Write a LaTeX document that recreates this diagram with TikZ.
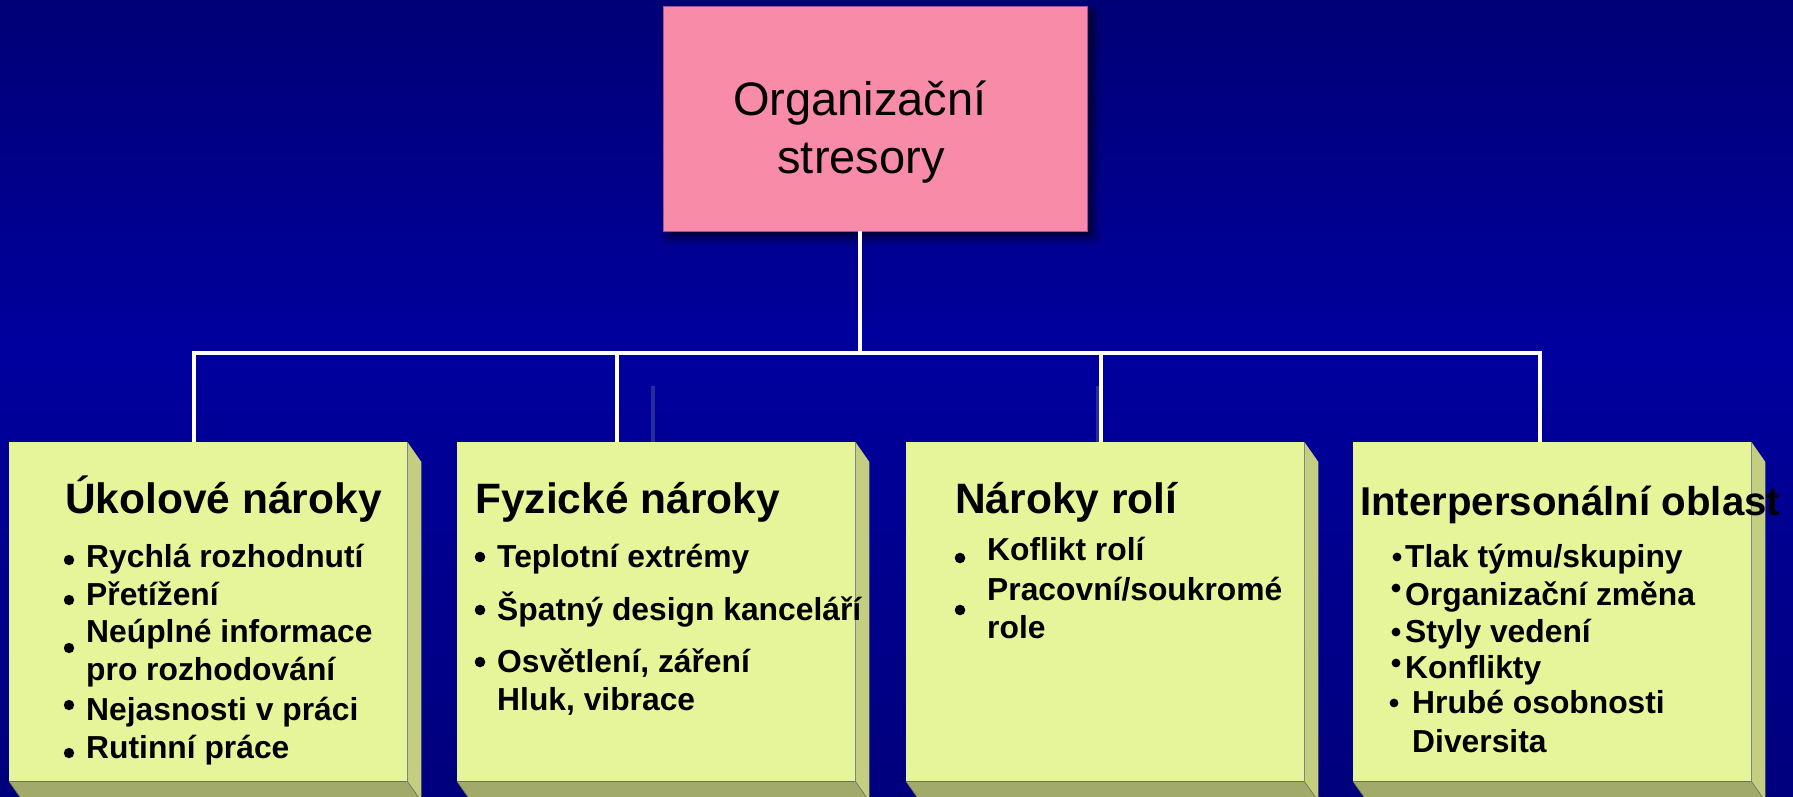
\documentclass[tikz,border=0pt]{standalone}
\usepackage{fontspec}
\setmainfont{Liberation Sans}
\usetikzlibrary{shadows.blur}
\definecolor{bgtop}{RGB}{0,0,118}
\definecolor{bgmid}{RGB}{0,0,158}
\definecolor{bgbot}{RGB}{0,0,125}
\definecolor{yfront}{RGB}{230,245,154}
\definecolor{yside}{RGB}{196,206,128}
\definecolor{ybot}{RGB}{161,170,106}
\definecolor{pinkfill}{RGB}{248,140,168}
\definecolor{pinkline}{RGB}{170,80,150}
\definecolor{faintline}{RGB}{35,45,155}
\tikzset{
  conn/.style={white,line width=4.5pt,line join=miter},
  faint/.style={faintline,line width=4pt},
  ybox/.style={rectangle,fill=yfront,draw=none,minimum width=398pt,minimum height=339pt,anchor=north west,inner sep=0pt},
  hdr/.style={anchor=base west,inner sep=0pt,font=\fontsize{42.5}{50}\selectfont\bfseries},
  hdrsmall/.style={hdr,font=\fontsize{40.2}{48}\selectfont\bfseries},
  itm/.style={anchor=base west,inner sep=0pt,font=\fontsize{31.8}{38}\selectfont\bfseries},
  rtxt/.style={anchor=base,inner sep=0pt,font=\fontsize{47}{58}\selectfont},
}
\begin{document}
\begin{tikzpicture}[x=1pt,y=-1pt]
\useasboundingbox (0,0) rectangle (1793,796);
\clip (0,0) rectangle (1793,796);
\fill[bgmid] (0,0) rectangle (1793,796);
\shade[top color=bgtop,bottom color=bgmid] (0,0) rectangle (1793,351);
\shade[top color=bgmid,bottom color=bgbot] (0,350) rectangle (1793,796);

% root
\node[rectangle,fill=pinkfill,draw=pinkline,line width=0.8pt,minimum width=424pt,minimum height=225pt,inner sep=0pt,
  blur shadow={shadow xshift=6pt,shadow yshift=-6pt,shadow blur radius=9pt,shadow opacity=70}] (root) at (875,118.5) {};
\node[rtxt] (rt1) at (860,115) {Organizační};
\node[rtxt] (rt2) at (861,173) {stresory};

% boxes
\foreach \n/\x in {1/9,2/457,3/906,4/1353}{
  \node[ybox] (b\n) at (\x,442) {};
  \fill[ybot] (b\n.south west) -- (b\n.south east) -- ++(14,20) -- ++(-398,0) -- cycle;
  \fill[yside] (b\n.north east) -- ++(14,20) -- ++(0,339) -- (b\n.south east) -- cycle;
  \draw[ybot!70!black,line width=0.6pt] (b\n.south east) -- ++(14,20);
  \draw[ybot!70!black,line width=0.6pt] (b\n.south west) -- ++(14,20);
}

% connectors
\coordinate (j) at (860,353);
\coordinate (t1) at (194,442);
\coordinate (t2) at (617,442);
\coordinate (t3) at (1101,442);
\coordinate (t4) at (1540,442);
\draw[conn] (root.south -| j) -- (j);
\draw[conn] (j) -| (t1);
\draw[conn] (j) -| (t2);
\draw[conn] (j) -| (t3);
\draw[conn] (j) -| (t4);
\coordinate (f1) at (653,386);
\coordinate (f2) at (1097,386);
\draw[faint] (f1) -- (f1 |- b2.north);
\draw[faintline,line width=3pt] (f2) -- (f2 |- b3.north);

% box 1
\node[hdr] (h1) at (65,513) {Úkolové nároky};
\node[itm] (i11) at (86,567) {Rychlá rozhodnutí};
\node[itm] (i12) at (86,605) {Přetížení};
\node[itm] (i13) at (86,642) {Neúplné informace};
\node[itm] (i14) at (86,680) {pro rozhodování};
\node[itm] (i15) at (86,720) {Nejasnosti v práci};
\node[itm] (i16) at (86,758) {Rutinní práce};
\foreach \y in {560,600,648,705,753}{\fill[black] (69,\y) circle (5.2pt);}

% box 2
\node[hdr] (h2) at (475,513) {Fyzické nároky};
\node[itm] (i21) at (497,567) {Teplotní extrémy};
\node[itm] (i22) at (497,620) {Špatný design kanceláří};
\node[itm] (i23) at (497,672) {Osvětlení, záření};
\node[itm] (i24) at (497,710) {Hluk, vibrace};
\foreach \y in {557,610,662}{\fill[black] (480,\y) circle (5.3pt);}

% box 3
\node[hdr] (h3) at (955,513) {Nároky rolí};
\node[itm] (i31) at (987,560) {Koflikt rolí};
\node[itm] (i32) at (987,600) {Pracovní/soukromé};
\node[itm] (i33) at (987,638) {role};
\foreach \y in {558,610}{\fill[black] (960,\y) circle (5.3pt);}

% box 4
\node[hdrsmall] (h4) at (1360,515) {Interpersonální oblast};
\node[itm] (i41) at (1405,567) {Tlak týmu/skupiny};
\node[itm] (i42) at (1405,605) {Organizační změna};
\node[itm] (i43) at (1405,642) {Styly vedení};
\node[itm] (i44) at (1405,678) {Konflikty};
\node[itm] (i45) at (1412,713) {Hrubé osobnosti};
\node[itm] (i46) at (1412,752) {Diversita};
\foreach \x/\y in {1397/557,1396/588,1396/632,1396/663,1394/703}{\fill[black] (\x,\y) circle (4.4pt);}
\end{tikzpicture}
\end{document}
